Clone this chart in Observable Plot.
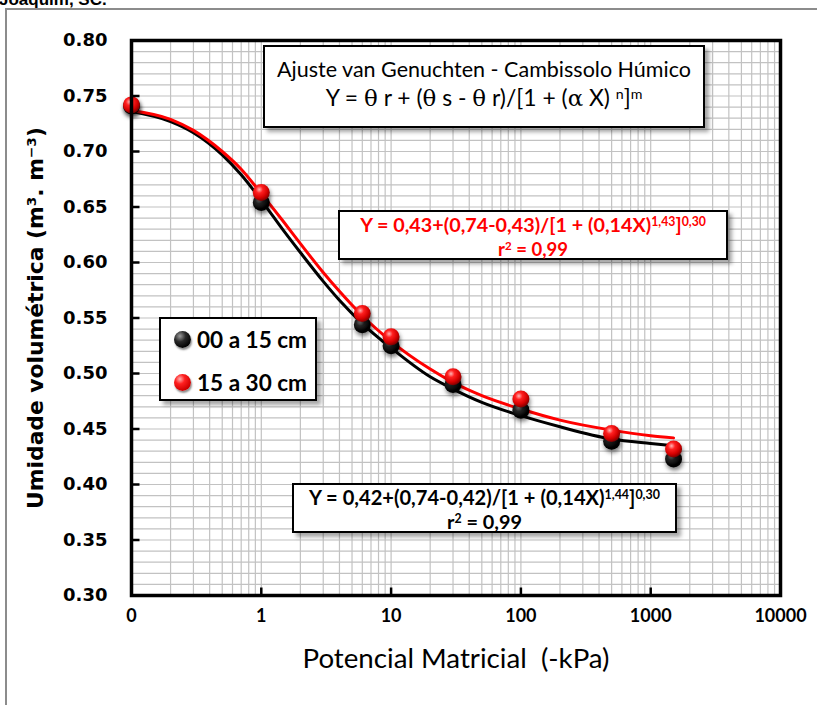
<!DOCTYPE html>
<html>
<head>
<meta charset="utf-8">
<script src="https://cdn.jsdelivr.net/npm/d3@7"></script>
<script src="https://cdn.jsdelivr.net/npm/@observablehq/plot@0.6"></script>
<style>
html, body { margin: 0; padding: 0; background: #fff; overflow: hidden; }
#wrap { position: relative; width: 817px; height: 705px; overflow: hidden; background: #fff; }
#toptext { position: absolute; left: -1px; top: -9px; font: bold 17px "Liberation Sans", Arial, sans-serif; line-height: 17px; color: #000; white-space: nowrap; }
#border { position: absolute; left: 5px; top: 8px; width: 900px; height: 800px; border: 2px solid #8c8c8c; }
#chart { position: absolute; left: 0; top: 0; }
.box { position: absolute; background: #fff; border: 2px solid #000; box-sizing: border-box; box-shadow: 4px 4px 4px rgba(0,0,0,0.35); font-family: Lato, "Open Sans", sans-serif; color: #000; }
.line { position: absolute; left: 0; right: 0; text-align: center; white-space: nowrap; }
.line span.fit { display: inline-block; white-space: nowrap; }
sup { font-size: 0.62em; vertical-align: 0.5em; line-height: 0; }
.gk { font-family: "DejaVu Serif", "Liberation Serif", serif; font-weight: normal; }
.leg { position: absolute; display: flex; align-items: center; font: bold 22px Lato, sans-serif; white-space: nowrap; }
.sph { display: inline-block; width: 17px; height: 17px; border-radius: 50%; margin-right: 0; box-shadow: 1px 2px 2px rgba(0,0,0,0.45); }
.sph.k { background: radial-gradient(circle at 35% 30%, #9c9c9c 0%, #2a2a2a 35%, #000 75%, #000 100%); }
.sph.r { background: radial-gradient(circle at 35% 30%, #ffb0b0 0%, #ff2020 30%, #d00000 70%, #7a0000 100%); }
svg g[aria-label="dot"] circle { filter: drop-shadow(1px 3px 2px rgba(0,0,0,0.5)); }
svg g[aria-label="y-axis tick label"] text { font-family: "DejaVu Sans", Verdana, sans-serif; font-weight: bold; font-size: 18px; }
svg g[aria-label="x-axis tick label"] text { font-family: Lato, sans-serif; font-weight: bold; font-size: 18px; }
svg g[aria-label="x-axis label"] text { font-family: Lato, sans-serif; font-weight: normal; font-size: 27px; }
svg g[aria-label="y-axis label"] text { font-family: "DejaVu Sans", Verdana, sans-serif; font-weight: bold; font-size: 20px; }
</style>
</head>
<body>
<div id="wrap">
  <div id="border"></div>
  <div id="toptext">Joaquim, SC.</div>
  <div id="chart"></div>

  <div class="box" style="left:263px; top:45px; width:442px; height:83px;">
    <div class="line" style="top:10px; line-height:24px; font-size:21px;"><span class="fit" data-w="414">Ajuste van Genuchten - Cambissolo Húmico</span></div>
    <div class="line" style="top:38px; line-height:24px; font-size:21px;"><span class="fit" data-w="317">Y = <span class="gk">θ</span> r + (<span class="gk">θ</span> s - <span class="gk">θ</span> r)/[1 + (<span class="gk">α</span> X) <sup>n</sup>]<sup>m</sup></span></div>
  </div>

  <div class="box" style="left:338px; top:210px; width:390px; height:50px; color:#ff0000; font-weight:bold;">
    <div class="line" style="top:1px; line-height:22px; font-size:20px;"><span class="fit" data-w="346">Y = 0,43+(0,74-0,43)/[1 + (0,14X)<sup>1,43</sup>]<sup>0,30</sup></span></div>
    <div class="line" style="top:25px; line-height:22px; font-size:20px;"><span class="fit" data-w="70">r<sup>2</sup> = 0,99</span></div>
  </div>

  <div class="box" style="left:292px; top:483px; width:385px; height:50px; font-weight:bold;">
    <div class="line" style="top:1px; line-height:22px; font-size:20px;"><span class="fit" data-w="351">Y = 0,42+(0,74-0,42)/[1 + (0,14X)<sup>1,44</sup>]<sup>0,30</sup></span></div>
    <div class="line" style="top:25px; line-height:22px; font-size:20px;"><span class="fit" data-w="75">r<sup>2</sup> = 0,99</span></div>
  </div>

  <div class="box" style="left:159px; top:317px; width:158px; height:84px;" id="legend"></div>
</div>

<script>
// ---- data ----
const series = ["00 a 15 cm", "15 a 30 cm"];
const seriesColors = ["#000000", "#ff0000"];

// measured points (x in -kPa; 0 drawn at 0.1 on the log axis)
const xPoints = [0.1, 1, 6, 10, 30, 100, 500, 1500];
const y0015 = [0.741, 0.654, 0.544, 0.525, 0.490, 0.467, 0.439, 0.423];
const y1530 = [0.742, 0.663, 0.554, 0.533, 0.497, 0.477, 0.446, 0.432];

// fitted curves
const xCurve = [0.1, 0.2, 0.3, 0.5, 0.7, 1, 1.5, 2, 3, 4, 6, 10, 20, 30, 50, 100, 200, 500, 1000, 1500];
const fit0015 = [0.736, 0.727, 0.717, 0.697, 0.679, 0.656, 0.628, 0.609, 0.583, 0.566, 0.545, 0.523, 0.497, 0.486, 0.474, 0.462, 0.452, 0.441, 0.437, 0.435];
const fit1530 = [0.737, 0.729, 0.719, 0.700, 0.684, 0.662, 0.636, 0.617, 0.591, 0.574, 0.552, 0.529, 0.504, 0.492, 0.480, 0.468, 0.458, 0.449, 0.444, 0.442];

// axes
const xTicks = [0.1, 1, 10, 100, 1000, 10000];
const xTickLabels = ["0", "1", "10", "100", "1000", "10000"];
const yTicks = [0.30, 0.35, 0.40, 0.45, 0.50, 0.55, 0.60, 0.65, 0.70, 0.75, 0.80];
const yTickLabels = ["0.30", "0.35", "0.40", "0.45", "0.50", "0.55", "0.60", "0.65", "0.70", "0.75", "0.80"];
const xTitle = "Potencial Matricial  (-kPa)";
const yTitle = "Umidade volumétrica (m³. m⁻³)";

// minor grid (log decades and 0.01 steps)
const xGrid = [];
for (let e = -1; e < 4; e++) for (let k = 1; k < 10; k++) xGrid.push(k * Math.pow(10, e));
xGrid.push(10000);
const yGrid = d3.range(30, 81).map(d => d / 100);

const tickRight = {draw(ctx) { ctx.moveTo(0, 0); ctx.lineTo(8, 0); }};
const tickUp = {draw(ctx) { ctx.moveTo(0, 0); ctx.lineTo(0, -8); }};

const svg = Plot.plot({
  width: 817,
  height: 705,
  marginLeft: 131,
  marginRight: 37,
  marginTop: 40,
  marginBottom: 110,
  style: {background: "transparent", color: "#000", fontFamily: "Lato, sans-serif"},
  x: {type: "log", domain: [0.1, 10000]},
  y: {domain: [0.30, 0.80]},
  marks: [
    Plot.gridX(xGrid, {stroke: "#c2c2c2", strokeOpacity: 1, strokeWidth: 1.2}),
    Plot.gridY(yGrid, {stroke: "#c2c2c2", strokeOpacity: 1, strokeWidth: 1.2}),
    Plot.line(xCurve, {x: d => d, y: (d, i) => fit0015[i], stroke: seriesColors[0], strokeWidth: 3, curve: "monotone-x"}),
    Plot.line(xCurve, {x: d => d, y: (d, i) => fit1530[i], stroke: seriesColors[1], strokeWidth: 3, curve: "monotone-x"}),
    Plot.dot(xPoints, {x: d => d, y: (d, i) => y0015[i], r: 8.5, fill: "url(#gBlack)", stroke: "none"}),
    Plot.dot(xPoints, {x: d => d, y: (d, i) => y1530[i], r: 8.5, fill: "url(#gRed)", stroke: "none"}),
    Plot.frame({stroke: "#000", strokeWidth: 3.5}),
    Plot.dot(yTicks.slice(1, -1), {y: d => d, frameAnchor: "left", symbol: tickRight, stroke: "#000", strokeWidth: 2.5, fill: "none"}),
    Plot.dot(xTicks.slice(1, -1), {x: d => d, frameAnchor: "bottom", symbol: tickUp, stroke: "#000", strokeWidth: 2.5, fill: "none"}),
    Plot.axisX(xTicks, {tickSize: 0, tickPadding: 14, tickFormat: d => xTickLabels[xTicks.indexOf(d)], label: xTitle, labelArrow: "none", labelAnchor: "center", labelOffset: 72}),
    Plot.axisY(yTicks, {tickSize: 0, tickPadding: 24, tickFormat: d => yTickLabels[yTicks.findIndex(t => Math.abs(t - d) < 1e-9)], label: yTitle, labelArrow: "none", labelAnchor: "center", labelOffset: 104})
  ]
});

const defs = d3.select(svg).insert("defs", ":first-child");
defs.html(`
  <radialGradient id="gRed" cx="38%" cy="32%" r="70%">
    <stop offset="0%" stop-color="#ffb4b4"/>
    <stop offset="30%" stop-color="#ff2020"/>
    <stop offset="70%" stop-color="#d40000"/>
    <stop offset="100%" stop-color="#780000"/>
  </radialGradient>
  <radialGradient id="gBlack" cx="38%" cy="32%" r="70%">
    <stop offset="0%" stop-color="#a0a0a0"/>
    <stop offset="35%" stop-color="#2a2a2a"/>
    <stop offset="80%" stop-color="#000"/>
    <stop offset="100%" stop-color="#000"/>
  </radialGradient>`);

document.getElementById("chart").appendChild(svg);

// strip any automatic arrows from axis titles
svg.querySelectorAll('g[aria-label="x-axis label"] text, g[aria-label="y-axis label"] text').forEach(t => {
  t.textContent = t.textContent.replace(/[\u2190-\u2193]/g, "").trim();
});

// legend
const legend = d3.select("#legend");
series.forEach((s, i) => {
  const row = legend.append("div").attr("class", "leg").style("left", "13px").style("top", (i === 0 ? 7 : 50) + "px");
  row.append("span").attr("class", "sph " + (i === 0 ? "k" : "r"));
  row.append("span").attr("class", "fit").attr("data-w", 110).style("margin-left", "6px").text(s);
});

// fit HTML texts to measured widths
document.querySelectorAll("[data-w]").forEach(el => {
  const target = +el.dataset.w;
  const cur = parseFloat(getComputedStyle(el).fontSize);
  const w = el.getBoundingClientRect().width;
  if (w > 0) el.style.fontSize = (cur * target / w).toFixed(2) + "px";
});

// fit axis titles
function fitSvgText(sel, target) {
  const t = svg.querySelector(sel);
  if (!t) return;
  const cur = parseFloat(getComputedStyle(t).fontSize);
  const len = t.getComputedTextLength();
  if (len > 0) t.style.fontSize = (cur * target / len).toFixed(2) + "px";
}
fitSvgText('g[aria-label="x-axis label"] text', 307);
fitSvgText('g[aria-label="y-axis label"] text', 382);
</script>
</body>
</html>
